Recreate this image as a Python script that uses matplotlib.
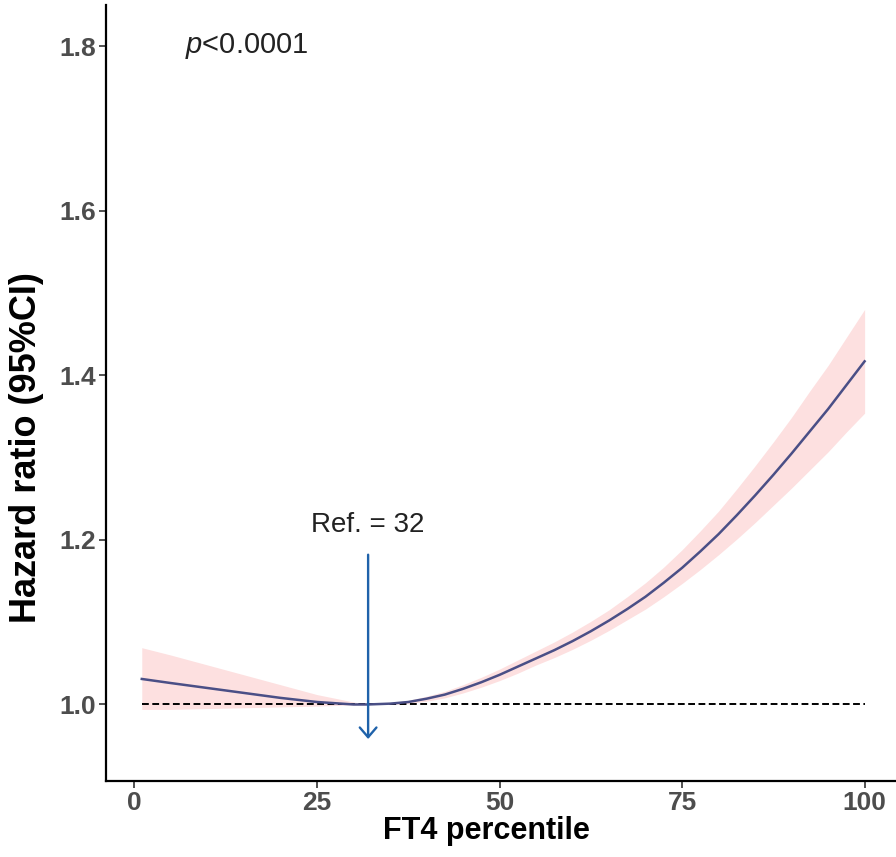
import matplotlib
matplotlib.use("Agg")
import matplotlib.pyplot as plt

plt.rcParams['font.family'] = ['Liberation Sans', 'DejaVu Sans']
plt.rcParams['mathtext.fontset'] = 'custom'
plt.rcParams['mathtext.it'] = 'Liberation Sans:italic'
plt.rcParams['mathtext.rm'] = 'Liberation Sans'

# restricted cubic spline estimate of HR by FT4 percentile
pct = [1, 5, 10, 15, 20, 25, 30, 32, 35, 37.5, 40, 42.5, 45, 47.5, 50, 52.5, 55,
       57.5, 60, 62.5, 65, 67.5, 70, 72.5, 75, 77.5, 80, 82.5, 85, 87.5, 90,
       92.5, 95, 97.5, 100]
hr = [1.031, 1.026, 1.020, 1.014, 1.008, 1.003, 1.000, 1.000, 1.001, 1.003, 1.007,
      1.012, 1.019, 1.027, 1.036, 1.046, 1.056, 1.066, 1.077, 1.089, 1.102, 1.116,
      1.131, 1.148, 1.166, 1.186, 1.207, 1.230, 1.254, 1.279, 1.305, 1.332, 1.359,
      1.388, 1.417]
upper = [1.069, 1.060, 1.048, 1.036, 1.024, 1.012, 1.003, 1.000, 1.002, 1.005, 1.010,
         1.016, 1.024, 1.033, 1.043, 1.054, 1.065, 1.076, 1.088, 1.101, 1.115, 1.131,
         1.148, 1.167, 1.188, 1.211, 1.235, 1.262, 1.290, 1.319, 1.349, 1.381, 1.412,
         1.446, 1.480]
lower = [0.994, 0.994, 0.995, 0.996, 0.997, 0.998, 0.9995, 1.000, 1.000, 1.001, 1.004,
         1.008, 1.014, 1.021, 1.029, 1.038, 1.048, 1.057, 1.067, 1.078, 1.090, 1.103,
         1.116, 1.131, 1.147, 1.164, 1.182, 1.201, 1.221, 1.242, 1.263, 1.285, 1.307,
         1.331, 1.354]

ref_pct = 32
p_text = "$p$<0.0001"
xticks = [0, 25, 50, 75, 100]
yticks = [1.0, 1.2, 1.4, 1.6, 1.8]

fig = plt.figure(figsize=(8.96, 8.57), dpi=100)
ax = fig.add_axes([106 / 896, 76 / 857, 790 / 896, 776 / 857])

ax.fill_between(pct, lower, upper, color='#fde0e0', lw=0, zorder=1)
ax.plot(pct, hr, color='#4a4f86', lw=1.8, zorder=3)
ax.plot([pct[0], pct[-1]], [1, 1], color='black', lw=1.4, ls=(0, (3.5, 1.8)), zorder=2)

# reference arrow
ax.annotate('', xy=(ref_pct, 0.958), xytext=(ref_pct, 1.182),
            arrowprops=dict(arrowstyle='->,head_length=0.35,head_width=0.3',
                            mutation_scale=20, color='#1f62aa', lw=1.7,
                            shrinkA=0, shrinkB=0),
            zorder=4)
ax.text(ref_pct, 1.218, 'Ref. = %d' % ref_pct, ha='center', va='center',
        fontsize=20, color='#222222')
ax.text(6.9, 1.80, p_text, ha='left', va='center', fontsize=21, color='#222222')

ax.set_xlim(-3.9, 104.3)
ax.set_ylim(0.907, 1.85)
ax.set_xticks(xticks)
ax.set_yticks(yticks)
ax.set_yticklabels(['%.1f' % v for v in yticks])

for s in ['top', 'right']:
    ax.spines[s].set_visible(False)
for s in ['left', 'bottom']:
    ax.spines[s].set_linewidth(1.6)
    ax.spines[s].set_color('black')

ax.tick_params(length=5, width=1.2, color='#333333', labelsize=19,
               labelcolor='#4d4d4d', pad=2)
for lab in ax.get_xticklabels() + ax.get_yticklabels():
    lab.set_fontweight('bold')

ax.set_xlabel('FT4 percentile', fontsize=22, fontweight='bold')
ax.set_ylabel('Hazard ratio (95%CI)', fontsize=26, fontweight='bold')
ax.xaxis.set_label_coords(0.482, -0.045)
ax.yaxis.set_label_coords(-0.079, 0.430)

fig.savefig('out.png', dpi=100)
